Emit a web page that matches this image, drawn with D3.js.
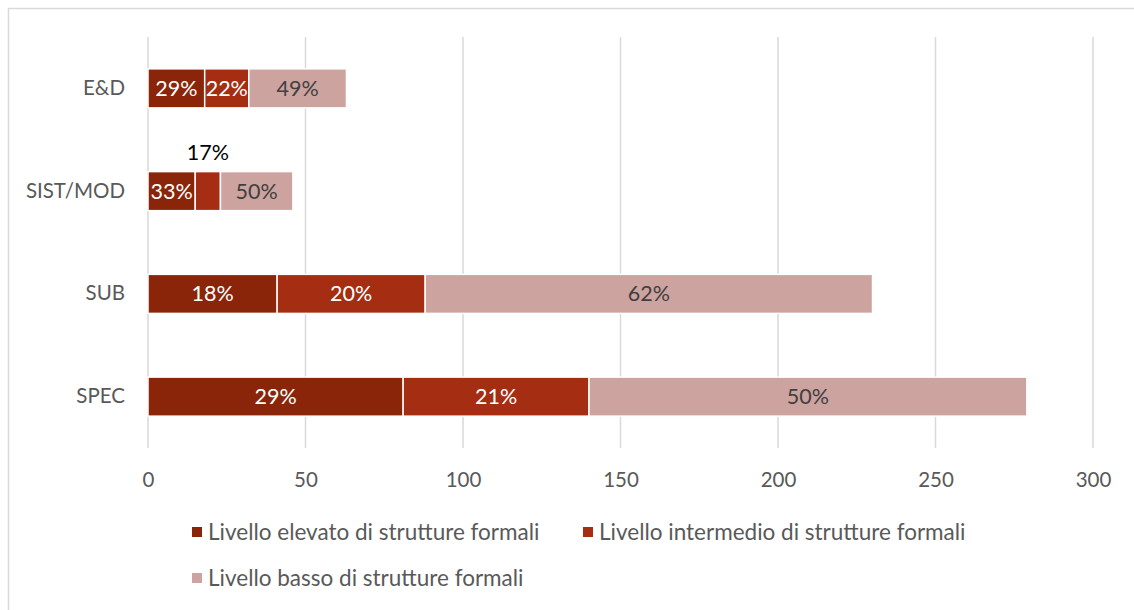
<!DOCTYPE html>
<html>
<head>
<meta charset="utf-8">
<script src="https://cdn.jsdelivr.net/npm/d3@7"></script>
<style>
  html, body { margin: 0; padding: 0; background: #fff; }
  svg { display: block; font-family: Lato, "Open Sans", sans-serif; }
</style>
</head>
<body>
<svg id="chart" width="1134" height="610"></svg>
<script>
// Categories (top to bottom)
const categories = ["E&D", "SIST/MOD", "SUB", "SPEC"];
// Counts per level of formal structures
const elevato = [18, 15, 41, 81];
const intermedio = [14, 8, 47, 59];
const basso = [31, 23, 142, 139];
// Percent labels shown inside each segment
const elevatoPct = ["29%", "33%", "18%", "29%"];
const intermedioPct = ["22%", "17%", "20%", "21%"];
const bassoPct = ["49%", "50%", "62%", "50%"];
const seriesNames = [
  "Livello elevato di strutture formali",
  "Livello intermedio di strutture formali",
  "Livello basso di strutture formali"
];
const xTicks = [0, 50, 100, 150, 200, 250, 300];

const colors = ["#8a250a", "#a52d12", "#cca39f"];
const labelColors = ["#ffffff", "#ffffff", "#404040"];

const svg = d3.select("#chart");

// outer frame
svg.append("rect")
  .attr("x", 8.5).attr("y", 8.5)
  .attr("width", 1140).attr("height", 620)
  .attr("fill", "none").attr("stroke", "#d9d9d9").attr("stroke-width", 1.5);

const x = d3.scaleLinear().domain([0, 300]).range([148, 1093]);
const y = d3.scaleBand().domain(categories).range([37, 448]).paddingInner(0.62).paddingOuter(0.31);

// vertical gridlines
svg.append("g").selectAll("line").data(xTicks).join("line")
  .attr("x1", d => x(d)).attr("x2", d => x(d))
  .attr("y1", 37).attr("y2", 448)
  .attr("stroke", "#d9d9d9").attr("stroke-width", 1.5);

// x axis tick labels
const xAxis = d3.axisBottom(x).tickValues(xTicks).tickSize(0).tickPadding(0);
const gx = svg.append("g").attr("transform", "translate(0,480)").call(xAxis);
gx.select(".domain").remove();
gx.selectAll("text")
  .attr("font-size", 20.5).attr("fill", "#595959")
  .attr("font-family", "Lato, 'Open Sans', sans-serif")
  .attr("dy", "0.35em");

// category labels
const yAxis = d3.axisLeft(y).tickSize(0).tickPadding(0);
const gy = svg.append("g").attr("transform", "translate(125,0)").call(yAxis);
gy.select(".domain").remove();
gy.selectAll("text")
  .attr("font-size", 20.5).attr("fill", "#595959")
  .attr("font-family", "Lato, 'Open Sans', sans-serif");

// stacked data
const rows = categories.map((c, i) => ({
  cat: c,
  v: [elevato[i], intermedio[i], basso[i]],
  p: [elevatoPct[i], intermedioPct[i], bassoPct[i]]
}));
const segs = [];
rows.forEach(r => {
  let acc = 0;
  r.v.forEach((v, k) => {
    segs.push({ cat: r.cat, k, x0: acc, x1: acc + v, label: r.p[k] });
    acc += v;
  });
});

svg.append("g").selectAll("rect").data(segs).join("rect")
  .attr("x", d => x(d.x0))
  .attr("y", d => y(d.cat))
  .attr("width", d => x(d.x1) - x(d.x0))
  .attr("height", y.bandwidth())
  .attr("fill", d => colors[d.k])
  .attr("stroke", "#fff").attr("stroke-width", 1.5);

// segment labels; a label too wide for its segment sits above the bar
const isNarrow = d => (x(d.x1) - x(d.x0)) < 36;
svg.append("g").selectAll("text").data(segs).join("text")
  .attr("x", d => (x(d.x0) + x(d.x1)) / 2)
  .attr("y", d => isNarrow(d) ? y(d.cat) - 19 : y(d.cat) + y.bandwidth() / 2)
  .attr("dy", "0.35em")
  .attr("text-anchor", "middle")
  .attr("font-size", 21.5)
  .attr("fill", d => isNarrow(d) ? "#000000" : labelColors[d.k])
  .text(d => d.label);

// legend
const legendPos = [[192, 532], [583, 532], [192, 578]];
const lg = svg.append("g").selectAll("g").data(seriesNames).join("g")
  .attr("transform", (d, i) => `translate(${legendPos[i][0]},${legendPos[i][1]})`);
lg.append("rect").attr("x", 0).attr("y", -5).attr("width", 10).attr("height", 10)
  .attr("fill", (d, i) => colors[i]);
lg.append("text").attr("x", 16).attr("dy", "0.35em")
  .attr("font-size", 22.5).attr("fill", "#595959")
  .text(d => d);
</script>
</body>
</html>
